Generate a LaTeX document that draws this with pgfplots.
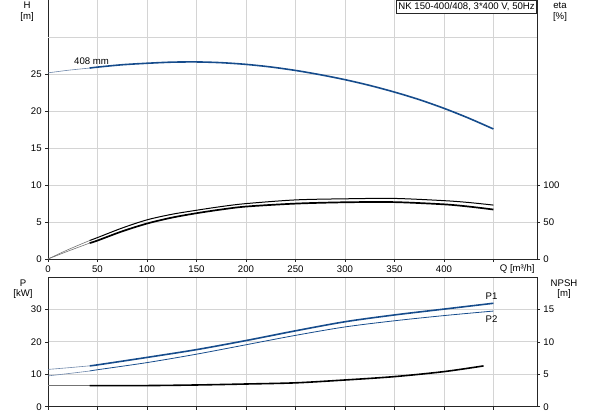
\documentclass[border=0pt]{standalone}
\usepackage{fontspec}
\setmainfont{Liberation Sans}
\usepackage{pgfplots}
\pgfplotsset{compat=1.18}
\definecolor{cblue}{RGB}{22,76,140}
\definecolor{lblue}{RGB}{110,135,170}
\definecolor{gridc}{RGB}{212,212,212}
\begin{document}
\begin{tikzpicture}
\fontsize{9.6}{11}\selectfont
\useasboundingbox (0pt,0pt) rectangle (593pt,415pt);
\pgfplotsset{
  base/.style={
    scale only axis, width=489pt, xmin=0, xmax=494,
    /pgf/number format/assume math mode=true,
    tick label style={font=\fontsize{9.6}{11}\selectfont},
    tick align=outside, major tick length=3pt,
    axis line style={black!85, line width=0.8pt},
    major grid style={gridc, line width=0.8pt},
    tick style={black!85, line width=0.6pt},
    clip=false,
  },
}
% ---------------- top axis: H ----------------
\begin{axis}[base, at={(48pt,156pt)}, anchor=south west, height=258.5pt,
  ymin=0, ymax=35,
  axis x line*=bottom, axis y line*=left,
  xtick={0,50,...,400}, extra x ticks={450}, extra x tick labels={},
  extra x tick style={grid=major},
  ytick={0,5,...,25}, extra y ticks={30}, extra y tick labels={},
  extra y tick style={major tick length=0pt, grid=major},
  grid=major,
]
\addplot[lblue, line width=0.6pt, smooth] coordinates {(0,25.2) (20,25.55) (42,25.85)};
\addplot[cblue, line width=1.6pt, smooth] coordinates {
(42,25.85) (50,25.98) (75,26.3) (100,26.5) (125,26.65) (150,26.68) (175,26.58) (200,26.35)
(225,26.0) (250,25.53) (275,24.95) (300,24.28) (325,23.5) (350,22.6) (375,21.58) (400,20.4) (425,19.07) (450,17.6)};
\node at (axis cs:44,26.75) {408 mm};
\node[draw=black!85, fill=white, anchor=north east, inner sep=2pt, line width=0.6pt] at (rel axis cs:1,1) {NK 150-400/408, 3*400 V, 50Hz};
\node at (axis cs:474,-1.4) {Q [m³/h]};
\end{axis}
% ---------------- top axis: eta ----------------
\begin{axis}[base, at={(48pt,156pt)}, anchor=south west, height=258.5pt,
  ymin=0, ymax=350,
  axis x line=none, axis y line*=right,
  ytick={0,50,100},
]
\addplot[black!55, line width=0.6pt, smooth] coordinates {(0,0) (20,12.5) (42,25)};
\addplot[black!55, line width=0.6pt, smooth] coordinates {(0,0) (20,10.5) (42,21.5)};
\addplot[black, line width=1.0pt, smooth] coordinates {
(42,25) (50,29) (75,42) (100,53) (125,60.5) (150,66) (175,71) (200,75) (250,80) (300,81.5) (350,82) (400,79) (425,76.5) (450,73)};
\addplot[black, line width=1.7pt, smooth] coordinates {
(42,21.5) (50,25) (75,37.5) (100,48) (125,56) (150,62) (175,67) (200,71) (250,75) (300,76.8) (350,77) (400,74) (425,71) (450,67)};
\end{axis}
% ---------------- bottom axis: P ----------------
\begin{axis}[base, at={(48pt,8.3pt)}, anchor=south west, height=129.7pt,
  ymin=0, ymax=40,
  xtick={0,50,...,450}, xticklabels={},
  ytick={0,10,20,30},
  grid=major, axis y line*=left, axis x line*=bottom,
]
\addplot[lblue, line width=0.6pt, smooth] coordinates {(0,11.5) (20,12.0) (42,12.6)};
\addplot[lblue, line width=0.6pt, smooth] coordinates {(0,9.5) (20,10.2) (42,11.0)};
\addplot[cblue, line width=1.6pt, smooth] coordinates {
(42,12.6) (50,12.9) (100,15.2) (150,17.6) (200,20.4) (250,23.4) (300,26.2) (350,28.3) (400,30.1) (450,31.9)};
\addplot[cblue, line width=0.8pt, smooth] coordinates {
(42,11.0) (50,11.4) (100,13.6) (150,16.2) (200,19.1) (250,22.0) (300,24.6) (350,26.5) (400,28.1) (450,29.5)};
\node at (axis cs:448,34.1) {P1};
\node at (axis cs:448,27.0) {P2};
\draw[black!85, line width=0.8pt] (rel axis cs:0,1) -- (rel axis cs:1,1);
\end{axis}
% ---------------- bottom axis: NPSH ----------------
\begin{axis}[base, at={(48pt,8.3pt)}, anchor=south west, height=129.7pt,
  ymin=0, ymax=20,
  axis x line=none, axis y line*=right,
  ytick={0,5,10,15},
]
\addplot[black!55, line width=0.6pt] coordinates {(0,3.25) (42,3.25)};
\addplot[black, line width=1.6pt, smooth] coordinates {
(42,3.25) (100,3.26) (150,3.35) (200,3.5) (250,3.68) (300,4.12) (350,4.64) (400,5.41) (440,6.29)};
\end{axis}
% ---------------- axis titles ----------------
\node at (27pt,410pt) {H};
\node at (27pt,398pt) {[m]};
\node at (560pt,410pt) {eta};
\node at (560pt,398pt) {[\%]};
\node at (23pt,132.3pt) {P};
\node at (23pt,120.7pt) {[kW]};
\node at (564pt,132.3pt) {NPSH};
\node at (564pt,120.7pt) {[m]};
\end{tikzpicture}
\end{document}
